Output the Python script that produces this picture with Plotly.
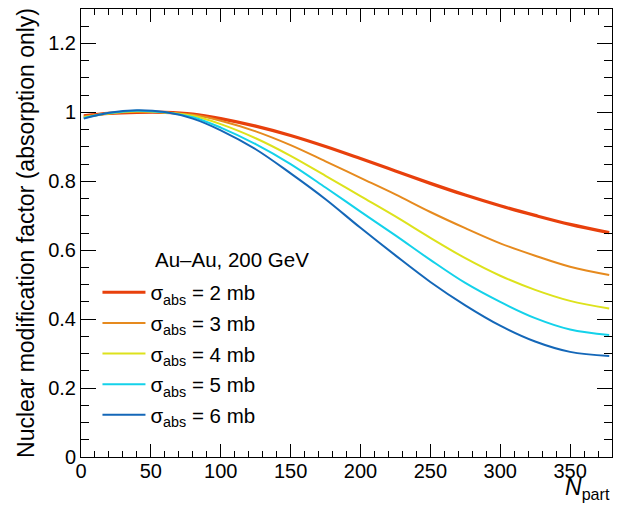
import plotly.graph_objects as go

# N_part grid and nuclear modification factors
npart = [2, 20, 40, 60, 80, 100, 125, 150, 175, 200, 225, 250, 275, 300, 325, 350, 378]
raa_2mb = [0.990, 0.997, 1.000, 1.000, 0.995, 0.982, 0.960, 0.933, 0.901, 0.866, 0.830, 0.794, 0.760, 0.729, 0.701, 0.675, 0.651]
raa_3mb = [0.988, 0.997, 1.002, 1.000, 0.993, 0.976, 0.945, 0.905, 0.858, 0.810, 0.762, 0.711, 0.664, 0.620, 0.584, 0.552, 0.528]
raa_4mb = [0.986, 0.997, 1.003, 1.000, 0.990, 0.966, 0.925, 0.874, 0.816, 0.757, 0.698, 0.636, 0.577, 0.526, 0.485, 0.453, 0.431]
raa_5mb = [0.984, 0.998, 1.005, 1.000, 0.986, 0.956, 0.908, 0.850, 0.782, 0.712, 0.643, 0.572, 0.505, 0.450, 0.403, 0.370, 0.354]
raa_6mb = [0.982, 0.999, 1.006, 1.001, 0.982, 0.948, 0.893, 0.823, 0.748, 0.665, 0.585, 0.508, 0.440, 0.381, 0.335, 0.305, 0.293]

series_names = ["σ<sub>abs</sub> = 2 mb", "σ<sub>abs</sub> = 3 mb", "σ<sub>abs</sub> = 4 mb",
                "σ<sub>abs</sub> = 5 mb", "σ<sub>abs</sub> = 6 mb"]
series_values = [raa_2mb, raa_3mb, raa_4mb, raa_5mb, raa_6mb]
colors = ["#e8400c", "#e68a1e", "#dde21c", "#14d2ea", "#1467b8"]
widths = [3.2, 2, 2, 2, 2]

x_ticks = [0, 50, 100, 150, 200, 250, 300, 350]
y_ticks = [0, 0.2, 0.4, 0.6, 0.8, 1, 1.2]
y_tick_text = ["0", "0.2", "0.4", "0.6", "0.8", "1", "1.2"]

FONT = "Liberation Sans, Arial, Helvetica, sans-serif"
TICK_FS = 20
LEG_FS = 20.5
TITLE_FS = 23

fig = go.Figure()
for name, vals, col, w in zip(series_names, series_values, colors, widths):
    fig.add_trace(go.Scatter(
        x=npart, y=vals, mode="lines", name=name, legendgroup=name,
        line=dict(color=col, width=w, shape="spline", smoothing=1.0),
        hoverinfo="skip"))

# the page body adds an 8px offset, so the figure is 8px smaller than the window
fig.update_layout(
    width=617, height=500,
    margin=dict(l=73, r=13, t=1, b=51),
    paper_bgcolor="white", plot_bgcolor="white",
    font=dict(family=FONT, size=TICK_FS, color="black"),
    showlegend=True,
    legend=dict(
        x=0.031, y=0.412, xanchor="left", yanchor="top",
        bgcolor="rgba(0,0,0,0)", borderwidth=0,
        font=dict(family=FONT, size=LEG_FS, color="black"),
        itemwidth=43, tracegroupgap=1,
    ),
    annotations=[
        dict(text="Au–Au, 200 GeV", xref="paper", yref="paper",
             x=0.136, y=0.44, xanchor="left", yanchor="middle",
             showarrow=False, font=dict(family=FONT, size=LEG_FS, color="black")),
        dict(text="<i>N</i><sub>part</sub>", xref="paper", yref="paper",
             x=1.0, y=-0.034, xanchor="right", yanchor="top",
             showarrow=False, font=dict(family=FONT, size=TITLE_FS, color="black")),
    ],
)

fig.update_xaxes(
    range=[0, 380], showgrid=False, zeroline=False, automargin=False,
    showline=True, linecolor="black", linewidth=1, mirror="ticks",
    ticks="inside", ticklen=13, tickwidth=1, tickcolor="black",
    tickvals=x_ticks, tickfont=dict(family=FONT, size=TICK_FS),
    ticklabelstandoff=-4,
    minor=dict(ticks="inside", ticklen=6, dtick=10, tick0=0, tickcolor="black", showgrid=False),
)
fig.update_yaxes(
    range=[0, 1.3], showgrid=False, zeroline=False, automargin=False,
    showline=True, linecolor="black", linewidth=1, mirror="ticks",
    ticks="inside", ticklen=15, tickwidth=1, tickcolor="black",
    tickvals=y_ticks, ticktext=y_tick_text, tickfont=dict(family=FONT, size=TICK_FS),
    minor=dict(ticks="inside", ticklen=8, dtick=0.05, tick0=0, tickcolor="black", showgrid=False),
    title=dict(text="Nuclear modification factor (absorption only)",
               font=dict(family=FONT, size=TITLE_FS), standoff=7),
)

fig.write_html("out.html")
